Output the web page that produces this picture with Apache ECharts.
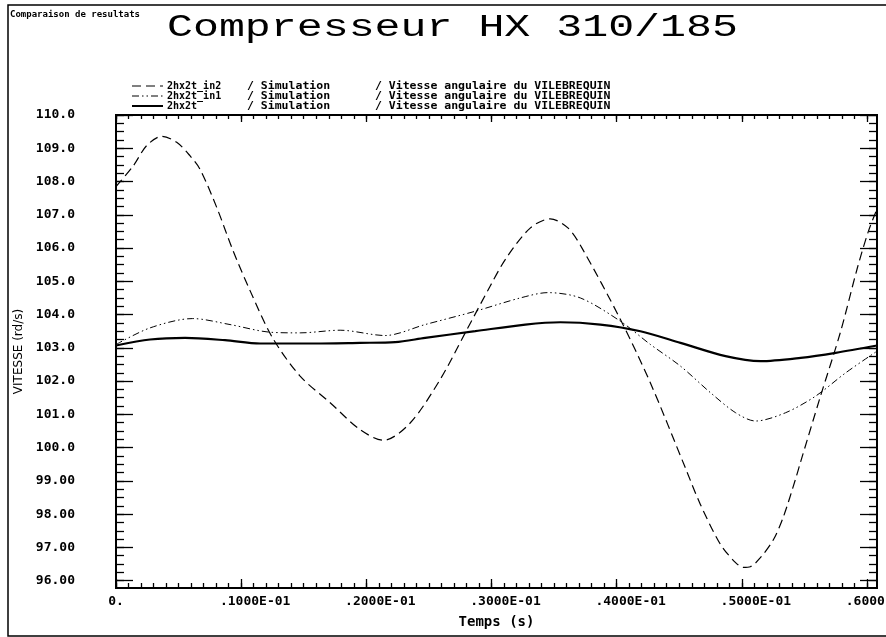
<!DOCTYPE html>
<html>
<head>
<meta charset="utf-8">
<script src="https://cdn.jsdelivr.net/npm/echarts@6/dist/echarts.min.js"></script>
<style>
  html, body { margin: 0; padding: 0; background: #fff; }
  #chart { width: 886px; height: 637px; }
</style>
</head>
<body>
<div id="chart"></div>
<script>
// valeurs : temps (s) / vitesse (rd/s)
const in2Time = [0, 0.00138, 0.00245, 0.00365, 0.00485, 0.00592, 0.00671, 0.00805, 0.00931, 0.01071,
  0.01251, 0.01471, 0.01711, 0.0195, 0.02138, 0.0235, 0.0259, 0.0279, 0.0299, 0.03118,
  0.03309, 0.03469, 0.03613, 0.03729, 0.04029, 0.04269, 0.04548, 0.04668, 0.04828, 0.04948,
  0.05012, 0.05068, 0.05148, 0.05252, 0.05332, 0.05428, 0.05468, 0.05628, 0.05787, 0.05923,
  0.06011, 0.06083];
const in2Speed = [107.85, 108.47, 109.08, 109.36, 109.18, 108.77, 108.37, 107.22, 105.96, 104.72,
  103.3, 102.15, 101.35, 100.54, 100.22, 100.74, 102.05, 103.45, 104.86, 105.7,
  106.6, 106.88, 106.6, 105.96, 103.86, 101.95, 99.4, 98.3, 97.1, 96.55,
  96.4, 96.42, 96.69, 97.23, 97.92, 99.04, 99.55, 101.54, 103.46, 105.4,
  106.5, 107.2];

const in1Time = [0, 0.00272, 0.00612, 0.00911, 0.01231, 0.01471, 0.01791, 0.0215, 0.0247, 0.0287,
  0.0323, 0.0345, 0.0371, 0.0403, 0.0427, 0.0451, 0.0475, 0.0495, 0.0511, 0.0535,
  0.0559, 0.0583, 0.0608];
const in1Speed = [103.1, 103.6, 103.88, 103.7, 103.47, 103.45, 103.53, 103.37, 103.7, 104.1,
  104.5, 104.66, 104.5, 103.8, 103.1, 102.45, 101.65, 101.05, 100.8, 101.05,
  101.55, 102.25, 102.9];

const baseTime = [0, 0.00272, 0.00552, 0.00871, 0.01151, 0.01551, 0.0195, 0.0223, 0.0247, 0.0287,
  0.0327, 0.0355, 0.0387, 0.0419, 0.0451, 0.0487, 0.0515, 0.0547, 0.0575, 0.0608];
const baseSpeed = [103.07, 103.25, 103.3, 103.23, 103.13, 103.13, 103.15, 103.17, 103.3, 103.5,
  103.7, 103.77, 103.7, 103.5, 103.15, 102.75, 102.6, 102.7, 102.85, 103.07];

const xMajorTicks = [0, 0.01, 0.02, 0.03, 0.04, 0.05, 0.06];
const xTickLabels = ['0.', '.1000E-01', '.2000E-01', '.3000E-01', '.4000E-01', '.5000E-01', '.6000E-01'];
const yMajorTicks = [96, 97, 98, 99, 100, 101, 102, 103, 104, 105, 106, 107, 108, 109, 110];
const yTickLabels = ['96.00', '97.00', '98.00', '99.00', '100.0', '101.0', '102.0', '103.0',
  '104.0', '105.0', '106.0', '107.0', '108.0', '109.0', '110.0'];

const legendNames = ['2hx2t_in2', '2hx2t_in1', '2hx2t'];

const X_MIN = 0, X_MAX = 0.0608;
const Y_MIN = 95.78, Y_MAX = 110;

const MONO = "'DejaVu Sans Mono', monospace";
const zip = (a, b) => a.map((t, i) => [t, b[i]]);

// petites graduations
const xMinorTicks = [];
for (let i = 0; i * 0.001 <= X_MAX; i++) xMinorTicks.push(+(i * 0.001).toFixed(4));
const yMinorTicks = [];
for (let v = 96; v <= Y_MAX; v += 0.25) yMinorTicks.push(v);

const findIdx = (arr, v) => arr.findIndex(t => Math.abs(t - v) < 1e-9);

const dashIn2 = [9, 5];
const dashIn1 = [7, 3, 1.5, 3, 1.5, 3];

const chart = echarts.init(document.getElementById('chart'));

const gridBox = { left: 116, top: 115, width: 761, height: 473, outerBoundsMode: 'none', containLabel: false };

function xAx(grid, pos, ticks, len, opts) {
  return Object.assign({
    gridIndex: grid, type: 'value', position: pos, min: X_MIN, max: X_MAX,
    axisLine: { show: true, onZero: false, lineStyle: { color: '#000', width: 2 } },
    axisTick: { show: true, inside: true, length: len, customValues: ticks, lineStyle: { color: '#000', width: 1.3 } },
    axisLabel: { show: false },
    splitLine: { show: false }
  }, opts || {});
}
function yAx(grid, pos, ticks, len, opts) {
  return Object.assign({
    gridIndex: grid, type: 'value', position: pos, min: Y_MIN, max: Y_MAX,
    axisLine: { show: true, onZero: false, lineStyle: { color: '#000', width: 2 } },
    axisTick: { show: true, inside: true, length: len, customValues: ticks, lineStyle: { color: '#000', width: 1.3 } },
    axisLabel: { show: false },
    splitLine: { show: false }
  }, opts || {});
}

const legendRowsY = [86, 96, 106];
const legendGraphics = [];
const legendDash = [dashIn2, dashIn1, null];
legendNames.forEach((name, i) => {
  const y = legendRowsY[i];
  legendGraphics.push({
    type: 'line', shape: { x1: 132, y1: y, x2: 163, y2: y },
    style: { stroke: '#000', lineWidth: i === 2 ? 2 : 1, lineDash: legendDash[i] || null }
  });
  legendGraphics.push({
    type: 'text', x: 167, y: y,
    style: { text: name, font: 'bold 10px ' + MONO, fill: '#000', textVerticalAlign: 'middle' }
  });
  legendGraphics.push({
    type: 'text', x: 247, y: y, scaleX: 1.15,
    style: { text: '/ Simulation', font: 'bold 10px ' + MONO, fill: '#000', textVerticalAlign: 'middle' }
  });
  legendGraphics.push({
    type: 'text', x: 375, y: y, scaleX: 1.15,
    style: { text: '/ Vitesse angulaire du VILEBREQUIN', font: 'bold 10px ' + MONO, fill: '#000', textVerticalAlign: 'middle' }
  });
});

chart.setOption({
  animation: false,
  backgroundColor: '#fff',
  grid: [Object.assign({}, gridBox), Object.assign({}, gridBox)],
  graphic: [
    { type: 'rect', shape: { x: 8, y: 5, width: 900, height: 631 },
      style: { fill: 'none', stroke: '#000', lineWidth: 1.5 } },
    { type: 'text', x: 10, y: 15,
      style: { text: 'Comparaison de resultats', font: 'bold 9px ' + MONO, fill: '#000', textVerticalAlign: 'middle' } },
    { type: 'text', x: 167, y: 28, scaleX: 1.395,
      style: { text: 'Compresseur HX 310/185', font: "31px 'Liberation Mono', monospace", fill: '#000', textVerticalAlign: 'middle' } }
  ].concat(legendGraphics),
  xAxis: [
    xAx(0, 'bottom', xMajorTicks, 9, {
      axisLabel: {
        show: true, customValues: xMajorTicks, margin: 7,
        formatter: v => {
          const i = findIdx(xMajorTicks, v);
          if (i < 0) return '';
          return (i === 0 ? '{z|' : '{n|') + xTickLabels[i] + '}';
        },
        rich: {
          z: { fontFamily: MONO, fontWeight: 'bold', fontSize: 13, color: '#000' },
          n: { fontFamily: MONO, fontWeight: 'bold', fontSize: 13, color: '#000', padding: [0, 0, 0, 28] }
        }
      },
      name: 'Temps (s)', nameLocation: 'middle', nameGap: 27,
      nameTextStyle: { fontFamily: MONO, fontWeight: 'bold', fontSize: 14, color: '#000' }
    }),
    xAx(0, 'top', xMajorTicks, 7),
    xAx(1, 'bottom', xMinorTicks, 5),
    xAx(1, 'top', xMinorTicks, 4)
  ],
  yAxis: [
    yAx(0, 'left', yMajorTicks, 17, {
      axisLabel: {
        show: true, customValues: yMajorTicks, margin: 41,
        fontFamily: MONO, fontWeight: 'bold', fontSize: 13, color: '#000',
        formatter: v => {
          const i = findIdx(yMajorTicks, v);
          return i < 0 ? '' : yTickLabels[i];
        }
      },
      name: 'VITESSE (rd/s)', nameLocation: 'middle', nameGap: 88, nameRotate: 90,
      nameTextStyle: { fontFamily: "'DejaVu Sans', sans-serif", fontSize: 12, color: '#000' }
    }),
    yAx(0, 'right', yMajorTicks, 17),
    yAx(1, 'left', yMinorTicks, 8),
    yAx(1, 'right', yMinorTicks, 8)
  ],
  series: [
    { name: legendNames[0], type: 'line', xAxisIndex: 0, yAxisIndex: 0, data: zip(in2Time, in2Speed),
      smooth: 0.3, showSymbol: false, lineStyle: { color: '#000', width: 1.2, type: dashIn2 } },
    { name: legendNames[1], type: 'line', xAxisIndex: 0, yAxisIndex: 0, data: zip(in1Time, in1Speed),
      smooth: 0.3, showSymbol: false, lineStyle: { color: '#000', width: 1, type: dashIn1 } },
    { name: legendNames[2], type: 'line', xAxisIndex: 0, yAxisIndex: 0, data: zip(baseTime, baseSpeed),
      smooth: 0.3, showSymbol: false, lineStyle: { color: '#000', width: 2.2 } }
  ]
});
</script>
</body>
</html>
